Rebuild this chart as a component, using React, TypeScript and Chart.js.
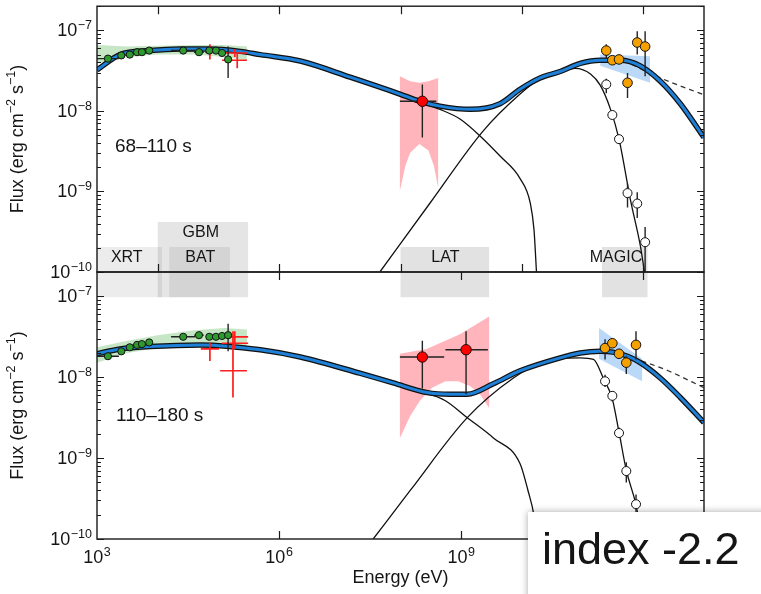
import React, { useEffect, useRef } from "react";
import { Chart, registerables } from "chart.js";

Chart.register(...registerables);

const FONT = '"Liberation Sans", Arial, Helvetica, sans-serif';

// ---------------- axes ----------------
const E_MIN = 1e3;
const E_MAX = 1e13;
const F_MIN = 1e-10;
const F_MAX = 2e-7;
const energyTicks = [1e3, 1e6, 1e9, 1e12];
const fluxTicks = [1e-10, 1e-9, 1e-8, 1e-7];
const topEdgeTicks = [1e4, 1e6, 1e8, 1e10, 1e12];
const bottomEdgeTicks = [1e6, 1e9, 1e12];
const panelLabels = ["68–110 s", "110–180 s"];
const noteText = "index -2.2";
const yTitleParts = ["Flux (erg cm", "−2", " s", "−1", ")"];
const xTitle = "Energy (eV)";

// ---------------- instrument ranges (log10 values) ----------------
const instNames = ["XRT", "GBM", "BAT", "LAT", "MAGIC"];
const instLogELo = [3.0, 4.0, 4.19, 8.0, 11.32];
const instLogEHi = [4.07, 5.49, 5.19, 9.46, 12.07];
const instTopLogF = [-9.69, -9.38, -9.69, -9.69, -9.69];
const instLowLogF = [-7.01, -7.01, -7.01, -7.01, -7.01];
const instLabelLogE = [3.49, 4.71, 4.7, 8.74, 11.55];

// ---------------- top panel (68–110 s), log10 values ----------------
const modelTopLogE = [3.0, 3.38, 3.87, 4.37, 4.86, 5.36, 5.69, 6.35, 7.17, 7.99, 8.32, 8.65, 9.15, 9.64, 9.97, 10.3, 10.63, 10.96, 11.29, 11.62, 11.95, 12.28, 12.61, 13.0];
const modelTopLogF = [-7.49, -7.3, -7.25, -7.23, -7.23, -7.26, -7.3, -7.38, -7.58, -7.79, -7.88, -7.94, -7.98, -7.91, -7.73, -7.59, -7.51, -7.41, -7.37, -7.37, -7.44, -7.63, -7.91, -8.33];
const syncTopLogE = [3.0, 3.38, 3.87, 4.37, 4.86, 5.36, 5.69, 6.35, 7.17, 7.99, 8.32, 8.65, 8.98, 9.31, 9.64, 9.97, 10.14, 10.2, 10.24];
const syncTopLogF = [-7.49, -7.3, -7.25, -7.23, -7.23, -7.26, -7.3, -7.38, -7.58, -7.79, -7.89, -7.98, -8.1, -8.31, -8.56, -8.84, -9.15, -9.48, -10.0];
const icTopLogE = [7.66, 8.49, 9.36, 9.97, 10.3, 10.63, 10.88, 11.13, 11.29, 11.46, 11.6, 11.79, 11.95, 12.02];
const icTopLogF = [-10.0, -9.14, -8.25, -7.79, -7.6, -7.51, -7.47, -7.54, -7.68, -7.98, -8.35, -9.11, -9.67, -10.0];
const dashTopLogE = [11.67, 12.28, 13.0];
const dashTopLogF = [-7.37, -7.59, -7.8];

const greenBandLogE = [3.0, 3.5, 4.0, 4.6, 5.1, 5.47];
const greenBandTopUp = [-7.18, -7.2, -7.19, -7.18, -7.18, -7.2];
const greenBandTopLo = [-7.41, -7.33, -7.3, -7.3, -7.33, -7.37];

const greenLogE = [3.18, 3.4, 3.54, 3.66, 3.74, 3.86, 4.42, 4.68, 4.85, 4.96, 5.06, 5.16];
const greenLogEErr = [0.18, 0.05, 0.05, 0.05, 0.05, 0.05, 0.2, 0.08, 0.05, 0.05, 0.05, 0.05];
const greenTopLogF = [-7.35, -7.31, -7.3, -7.27, -7.27, -7.25, -7.25, -7.27, -7.25, -7.25, -7.28, -7.36];
const batVBarLogE = [5.16];
const batVBarTopLo = [-7.59];
const batVBarTopHi = [-7.2];

const redTopLogE = [4.86, 5.27, 5.31];
const redTopLogF = [-7.27, -7.28, -7.37];
const redTopELo = [4.78, 5.06, 5.06];
const redTopEHi = [4.95, 5.47, 5.47];
const redTopFLo = [-7.36, -7.33, -7.47];
const redTopFHi = [-7.17, -7.23, -7.28];

const latBandTopLogE = [7.99, 8.16, 8.31, 8.46, 8.62, 8.62, 8.55, 8.46, 8.31, 8.16, 8.08, 7.99];
const latBandTopLogF = [-7.57, -7.63, -7.65, -7.63, -7.59, -8.95, -8.68, -8.49, -8.41, -8.52, -8.68, -8.99];
const latTopLogE = [8.36];
const latTopLogF = [-7.88];
const latTopELo = [7.99];
const latTopEHi = [8.59];
const latTopFLo = [-8.33];
const latTopFHi = [-7.67];

const magicTopLogE = [11.39, 11.49, 11.6, 11.74, 11.9, 12.03];
const orangeTopLogF = [-7.25, -7.37, -7.36, -7.65, -7.15, -7.2];
const orangeTopLo = [-7.35, -7.41, -7.4, -7.84, -7.3, -7.57];
const orangeTopHi = [-7.17, -7.33, -7.32, -7.53, -7.01, -7.01];
const whiteTopLogF = [-7.67, -8.05, -8.35, -9.02, -9.15, -9.63];
const whiteTopLo = [-7.78, -8.1, -8.4, -9.2, -9.33, -10.0];
const whiteTopHi = [-7.6, -8.0, -8.3, -8.9, -9.01, -9.44];
const bowTopLogE = [11.29, 12.11, 12.11, 11.29];
const bowTopLogF = [-7.3, -7.32, -7.65, -7.44];

// ---------------- bottom panel (110–180 s), log10 values ----------------
const modelBotLogE = [3.0, 3.38, 3.87, 4.7, 5.69, 6.35, 7.33, 7.88, 8.44, 8.82, 9.1, 9.53, 9.97, 10.63, 10.96, 11.29, 11.5, 11.74, 11.95, 12.28, 12.61, 13.0];
const modelBotLogF = [-7.71, -7.65, -7.62, -7.6, -7.66, -7.75, -7.95, -8.07, -8.19, -8.21, -8.21, -8.08, -7.92, -7.76, -7.7, -7.68, -7.69, -7.74, -7.82, -8.01, -8.25, -8.56];
const syncBotLogE = [3.0, 3.38, 3.87, 4.7, 5.69, 6.35, 7.33, 7.88, 8.32, 8.74, 9.1, 9.53, 9.97, 10.1, 10.2, 10.25];
const syncBotLogF = [-7.71, -7.65, -7.62, -7.6, -7.66, -7.75, -7.95, -8.07, -8.17, -8.29, -8.5, -8.75, -9.07, -9.4, -9.71, -10.0];
const icBotLogE = [7.55, 8.16, 9.1, 9.86, 10.3, 10.63, 10.96, 11.18, 11.34, 11.49, 11.6, 11.72, 11.88, 11.98];
const icBotLogF = [-10.0, -9.4, -8.5, -8.01, -7.83, -7.77, -7.76, -7.78, -8.01, -8.27, -8.68, -9.15, -9.58, -10.0];
const dashBotLogE = [11.83, 12.41, 13.0];
const dashBotLogF = [-7.76, -7.92, -8.13];

const greenBandBotUp = [-7.63, -7.55, -7.48, -7.42, -7.39, -7.41];
const greenBandBotLo = [-7.82, -7.7, -7.64, -7.62, -7.62, -7.64];
const greenBotLogF = [-7.74, -7.68, -7.63, -7.6, -7.59, -7.57, -7.5, -7.48, -7.5, -7.5, -7.49, -7.48];
const batVBarBotLo = [-7.68];
const batVBarBotHi = [-7.34];

const redBotLogE = [4.86, 5.27, 5.27, 5.24];
const redBotLogF = [-7.65, -7.5, -7.58, -7.92];
const redBotELo = [4.71, 5.06, 5.06, 5.03];
const redBotEHi = [5.01, 5.49, 5.49, 5.47];
const redBotFLo = [-7.8, -7.62, -7.65, -8.25];
const redBotFHi = [-7.57, -7.43, -7.52, -7.43];

const latBandBotLogE = [7.99, 8.43, 8.98, 9.46, 9.46, 9.31, 9.15, 8.95, 8.74, 8.52, 8.32, 8.16, 7.99];
const latBandBotLogF = [-7.71, -7.65, -7.47, -7.25, -8.38, -8.21, -8.11, -8.05, -8.05, -8.13, -8.29, -8.48, -8.75];
const latBotLogE = [8.36, 9.08];
const latBotLogF = [-7.75, -7.66];
const latBotELo = [7.99, 8.74];
const latBotEHi = [8.72, 9.44];
const latBotFLo = [-8.14, -8.21];
const latBotFHi = [-7.55, -7.43];

const magicBotLogE = [11.37, 11.49, 11.6, 11.72, 11.88];
const orangeBotLogF = [-7.64, -7.58, -7.71, -7.82, -7.6];
const orangeBotLo = [-7.78, -7.64, -7.77, -7.96, -7.78];
const orangeBotHi = [-7.53, -7.52, -7.65, -7.74, -7.43];
const whiteBotLogF = [-8.05, -8.23, -8.69, -9.16, -9.57];
const whiteBotLo = [-8.12, -8.3, -8.75, -9.3, -9.75];
const whiteBotHi = [-7.97, -8.17, -8.62, -9.05, -9.45];
const bowBotLogE = [11.27, 11.98, 11.98, 11.27];
const bowBotLogF = [-7.39, -7.77, -8.05, -7.77];

// ---------------- styles ----------------
const BOX_ALPHA = [0.075, 0.1, 0.08, 0.115, 0.115];
const BLUE = "#1f80d8";
const TEXT = "#151515";

// ---------------- helpers ----------------
const L = (v: number) => Math.pow(10, v);
const pts = (le: number[], lf: number[]) => le.map((e, i) => ({ x: L(e), y: L(lf[i]) }));
const bandPoly = (le: number[], up: number[], lo: number[]) => [...pts(le, up), ...pts(le, lo).reverse()];
const vbars = (le: number[], lo: number[], hi: number[]) =>
  le.flatMap((e, i) => [{ x: L(e), y: L(lo[i]) }, { x: L(e), y: L(hi[i]) }, { x: L(e), y: null }]);
const hbars = (lf: number[], elo: number[], ehi: number[]) =>
  lf.flatMap((f, i) => [{ x: L(elo[i]), y: L(f) }, { x: L(ehi[i]), y: L(f) }, { x: L(ehi[i]), y: null }]);
const rect = (eLo: number, eHi: number, fLo: number, fHi: number) => [
  { x: eLo, y: fHi }, { x: eHi, y: fHi }, { x: eHi, y: fLo }, { x: eLo, y: fLo },
];

const lineDS = (data: any[], color: string, width: number, order: number, extra: any = {}) => ({
  data, showLine: true, borderColor: color, borderWidth: width, pointRadius: 0, pointHoverRadius: 0,
  fill: false, order, cubicInterpolationMode: "monotone", ...extra,
});
const polyDS = (data: any[], color: string, order: number) => ({
  data, showLine: true, borderColor: "rgba(0,0,0,0)", borderWidth: 0, backgroundColor: color,
  fill: "shape", pointRadius: 0, pointHoverRadius: 0, tension: 0, order,
});
const segDS = (data: any[], color: string, width: number, order: number) => ({
  data, showLine: true, borderColor: color, borderWidth: width, pointRadius: 0, pointHoverRadius: 0,
  tension: 0, spanGaps: false, fill: false, order,
});
const ptDS = (data: any[], fillColor: string, radius: number, order: number) => ({
  data, showLine: false, pointRadius: radius, pointHoverRadius: radius, pointBackgroundColor: fillColor,
  pointBorderColor: "#111", pointBorderWidth: 1, order,
});

// draws "10" with a raised exponent; anchor = right edge or centre
function drawPow(ctx: any, exp: number, x: number, y: number, align: "right" | "center") {
  const base = "10";
  const sup = String(exp).replace("-", "−");
  ctx.font = `18px ${FONT}`;
  const wb = ctx.measureText(base).width;
  ctx.font = `12.5px ${FONT}`;
  const ws = ctx.measureText(sup).width;
  const total = wb + ws + 0.5;
  const x0 = align === "right" ? x - total : x - total / 2;
  ctx.textAlign = "left";
  ctx.textBaseline = "middle";
  ctx.font = `18px ${FONT}`;
  ctx.fillText(base, x0, y);
  ctx.font = `12.5px ${FONT}`;
  ctx.fillText(sup, x0 + wb + 0.5, y - 5.5);
}

function drawYTitle(ctx: any, cx: number, cy: number) {
  const fonts = [18, 12.5, 18, 12.5, 18];
  const raise = [0, -6, 0, -6, 0];
  const widths = yTitleParts.map((p, i) => {
    ctx.font = `${fonts[i]}px ${FONT}`;
    return ctx.measureText(p).width;
  });
  const total = widths.reduce((s, w) => s + w, 0);
  ctx.save();
  ctx.translate(cx, cy);
  ctx.rotate(-Math.PI / 2);
  ctx.textAlign = "left";
  ctx.textBaseline = "middle";
  let xx = -total / 2;
  yTitleParts.forEach((p, i) => {
    ctx.font = `${fonts[i]}px ${FONT}`;
    ctx.fillText(p, xx, raise[i]);
    xx += widths[i];
  });
  ctx.restore();
}

const framePlugin = {
  id: "frame",
  afterDatasetsDraw(chart: any, _args: any, opts: any) {
    const { ctx, chartArea: a, scales } = chart;
    const xs = scales.x;
    const ys = scales.y;
    ctx.save();
    ctx.strokeStyle = "#1a1a1a";
    ctx.lineWidth = 1.2;
    ctx.beginPath();
    const seg = (x1: number, y1: number, x2: number, y2: number) => {
      ctx.moveTo(x1, y1);
      ctx.lineTo(x2, y2);
    };
    for (let d = -10; d <= -7; d++) {
      for (let m = 1; m < 10; m++) {
        const v = m * Math.pow(10, d);
        if (v < F_MIN * 0.999 || v > F_MAX * 1.001) continue;
        const py = Math.round(ys.getPixelForValue(v)) + 0.5;
        const len = m === 1 ? 7 : 4;
        seg(a.left, py, a.left + len, py);
        seg(a.right, py, a.right - len, py);
      }
    }
    for (const v of opts.edgeTicks) {
      const px = Math.round(xs.getPixelForValue(v)) + 0.5;
      seg(px, a.top, px, a.top + 8);
      seg(px, a.bottom, px, a.bottom - 8);
    }
    ctx.stroke();
    ctx.lineWidth = 1.4;
    ctx.strokeRect(a.left, a.top, a.right - a.left, a.bottom - a.top);

    ctx.fillStyle = TEXT;
    for (const t of ys.ticks) {
      const py = ys.getPixelForValue(t.value);
      drawPow(ctx, Math.round(Math.log10(t.value)), a.left - 5, py + 1, "right");
    }
    if (opts.xLabels) {
      for (const t of xs.ticks) {
        const px = xs.getPixelForValue(t.value);
        drawPow(ctx, Math.round(Math.log10(t.value)), px, a.bottom + 19, "center");
      }
    }
    drawYTitle(ctx, 18, (a.top + a.bottom) / 2);

    if (opts.labels) {
      ctx.font = `16px ${FONT}`;
      ctx.textAlign = "center";
      ctx.textBaseline = "middle";
      instNames.forEach((n, i) => {
        const px = xs.getPixelForValue(L(instLabelLogE[i]));
        const py = ys.getPixelForValue(L(instTopLogF[i])) + 11;
        ctx.fillText(n, px, py);
      });
    }
    ctx.restore();
  },
};

function buildDatasets(isTop: boolean) {
  const ds: any[] = [];
  instNames.forEach((_n, i) => {
    const fHi = isTop ? L(instTopLogF[i]) : F_MAX;
    const fLo = isTop ? F_MIN : L(instLowLogF[i]);
    ds.push(polyDS(rect(L(instLogELo[i]), L(instLogEHi[i]), fLo, fHi), `rgba(0,0,0,${BOX_ALPHA[i]})`, 30));
  });
  const P = isTop
    ? {
        bandUp: greenBandTopUp, bandLo: greenBandTopLo, latBandE: latBandTopLogE, latBandF: latBandTopLogF,
        bowE: bowTopLogE, bowF: bowTopLogF, syncE: syncTopLogE, syncF: syncTopLogF, icE: icTopLogE, icF: icTopLogF,
        dashE: dashTopLogE, dashF: dashTopLogF, modelE: modelTopLogE, modelF: modelTopLogF,
        redE: redTopLogE, redF: redTopLogF, redELo: redTopELo, redEHi: redTopEHi, redFLo: redTopFLo, redFHi: redTopFHi,
        greenF: greenTopLogF, batLo: batVBarTopLo, batHi: batVBarTopHi,
        latE: latTopLogE, latF: latTopLogF, latELo: latTopELo, latEHi: latTopEHi, latFLo: latTopFLo, latFHi: latTopFHi,
        magE: magicTopLogE, orF: orangeTopLogF, orLo: orangeTopLo, orHi: orangeTopHi,
        whF: whiteTopLogF, whLo: whiteTopLo, whHi: whiteTopHi,
      }
    : {
        bandUp: greenBandBotUp, bandLo: greenBandBotLo, latBandE: latBandBotLogE, latBandF: latBandBotLogF,
        bowE: bowBotLogE, bowF: bowBotLogF, syncE: syncBotLogE, syncF: syncBotLogF, icE: icBotLogE, icF: icBotLogF,
        dashE: dashBotLogE, dashF: dashBotLogF, modelE: modelBotLogE, modelF: modelBotLogF,
        redE: redBotLogE, redF: redBotLogF, redELo: redBotELo, redEHi: redBotEHi, redFLo: redBotFLo, redFHi: redBotFHi,
        greenF: greenBotLogF, batLo: batVBarBotLo, batHi: batVBarBotHi,
        latE: latBotLogE, latF: latBotLogF, latELo: latBotELo, latEHi: latBotEHi, latFLo: latBotFLo, latFHi: latBotFHi,
        magE: magicBotLogE, orF: orangeBotLogF, orLo: orangeBotLo, orHi: orangeBotHi,
        whF: whiteBotLogF, whLo: whiteBotLo, whHi: whiteBotHi,
      };
  ds.push(polyDS(bandPoly(greenBandLogE, P.bandUp, P.bandLo), "rgba(120,195,120,0.42)", 20));
  ds.push(polyDS(pts(P.latBandE, P.latBandF), "rgba(255,120,132,0.55)", 19));
  ds.push(polyDS(pts(P.bowE, P.bowF), "rgba(90,165,240,0.42)", 18));
  ds.push(lineDS(pts(P.syncE, P.syncF), "#111", 1.3, 12));
  ds.push(lineDS(pts(P.icE, P.icF), "#111", 1.3, 12));
  ds.push(lineDS(pts(P.dashE, P.dashF), "#333", 1.3, 12, { borderDash: [5, 4] }));
  ds.push(lineDS(pts(P.modelE, P.modelF), "#111", 5.5, 10));
  ds.push(lineDS(pts(P.modelE, P.modelF), BLUE, 3, 9));
  ds.push(segDS([...hbars(P.redF, P.redELo, P.redEHi), ...vbars(P.redE, P.redFLo, P.redFHi)], "#ff1e1e", 1.7, 6));
  ds.push(segDS([
    ...hbars(P.greenF, greenLogE.map((e, i) => e - greenLogEErr[i]), greenLogE.map((e, i) => e + greenLogEErr[i])),
    ...vbars(batVBarLogE, P.batLo, P.batHi),
    ...hbars(P.latF, P.latELo, P.latEHi),
    ...vbars(P.latE, P.latFLo, P.latFHi),
    ...vbars(P.magE, P.orLo, P.orHi),
    ...vbars(P.magE, P.whLo, P.whHi),
  ], "#222", 1.4, 5));
  ds.push(ptDS(pts(greenLogE, P.greenF), "#2f9a2f", 3.6, 2));
  ds.push(ptDS(pts(P.magE, P.whF), "#ffffff", 4.5, 2));
  ds.push(ptDS(pts(P.magE, P.orF), "#f3a000", 4.8, 1));
  ds.push(ptDS(pts(P.latE, P.latF), "#ff0000", 5.2, 1));
  return ds;
}

function buildConfig(isTop: boolean): any {
  const yScale: any = {
    type: "logarithmic",
    min: F_MIN,
    max: F_MAX,
    afterBuildTicks: (s: any) => {
      s.ticks = fluxTicks.map((v) => ({ value: v }));
    },
    afterFit: (s: any) => {
      s.width = 97;
      s.paddingTop = 0;
      s.paddingBottom = 0;
    },
    grid: { display: false, drawTicks: false },
    border: { display: false },
    ticks: { display: false },
  };
  const xScale: any = isTop
    ? { type: "logarithmic", min: E_MIN, max: E_MAX, display: false }
    : {
        type: "logarithmic",
        min: E_MIN,
        max: E_MAX,
        afterBuildTicks: (s: any) => {
          s.ticks = energyTicks.map((v) => ({ value: v }));
        },
        afterFit: (s: any) => {
          s.height = 55;
          s.paddingLeft = 0;
          s.paddingRight = 0;
        },
        grid: { display: false, drawTicks: false },
        border: { display: false },
        ticks: { display: false },
        title: {
          display: true,
          text: xTitle,
          font: { family: FONT, size: 18 },
          color: TEXT,
          padding: { top: 0, bottom: 5 },
        },
      };
  return {
    type: "scatter",
    data: { datasets: buildDatasets(isTop) },
    options: {
      responsive: false,
      animation: false,
      events: [],
      layout: { padding: isTop ? { left: 0, right: 57, top: 3, bottom: 20 } : { left: 0, right: 57, top: 10, bottom: 0 } },
      scales: { x: xScale, y: yScale },
      plugins: {
        legend: { display: false },
        tooltip: { enabled: false },
        frame: { edgeTicks: isTop ? topEdgeTicks : bottomEdgeTicks, labels: isTop, xLabels: !isTop },
      },
    },
    plugins: [framePlugin],
  };
}

function Panel({ isTop, top, height }: { isTop: boolean; top: number; height: number }) {
  const ref = useRef<HTMLCanvasElement>(null);
  useEffect(() => {
    const chart = new Chart(ref.current as HTMLCanvasElement, buildConfig(isTop));
    return () => chart.destroy();
  }, [isTop]);
  return (
    <canvas
      ref={ref}
      width={761}
      height={height}
      style={{ position: "absolute", left: 0, top, width: 761, height }}
    />
  );
}

export default function App() {
  return (
    <div
      style={{
        position: "absolute",
        left: 0,
        top: 0,
        width: 761,
        height: 594,
        background: "#fff",
        overflow: "hidden",
        fontFamily: FONT,
        color: TEXT,
      }}
    >
      <Panel isTop={true} top={0} height={292} />
      <Panel isTop={false} top={262} height={332} />
      <div style={{ position: "absolute", left: 115, top: 135, fontSize: 19, lineHeight: "22px", whiteSpace: "nowrap" }}>
        {panelLabels[0]}
      </div>
      <div style={{ position: "absolute", left: 116, top: 404, fontSize: 19, lineHeight: "22px", whiteSpace: "nowrap" }}>
        {panelLabels[1]}
      </div>
      <div
        style={{
          position: "absolute",
          left: 528,
          top: 512,
          width: 250,
          height: 100,
          background: "#fff",
          boxShadow: "0 0 7px rgba(0,0,0,0.35)",
        }}
      >
        <div style={{ position: "absolute", left: 14, top: 14, fontSize: 45, lineHeight: "45px", whiteSpace: "nowrap" }}>
          {noteText}
        </div>
      </div>
    </div>
  );
}
